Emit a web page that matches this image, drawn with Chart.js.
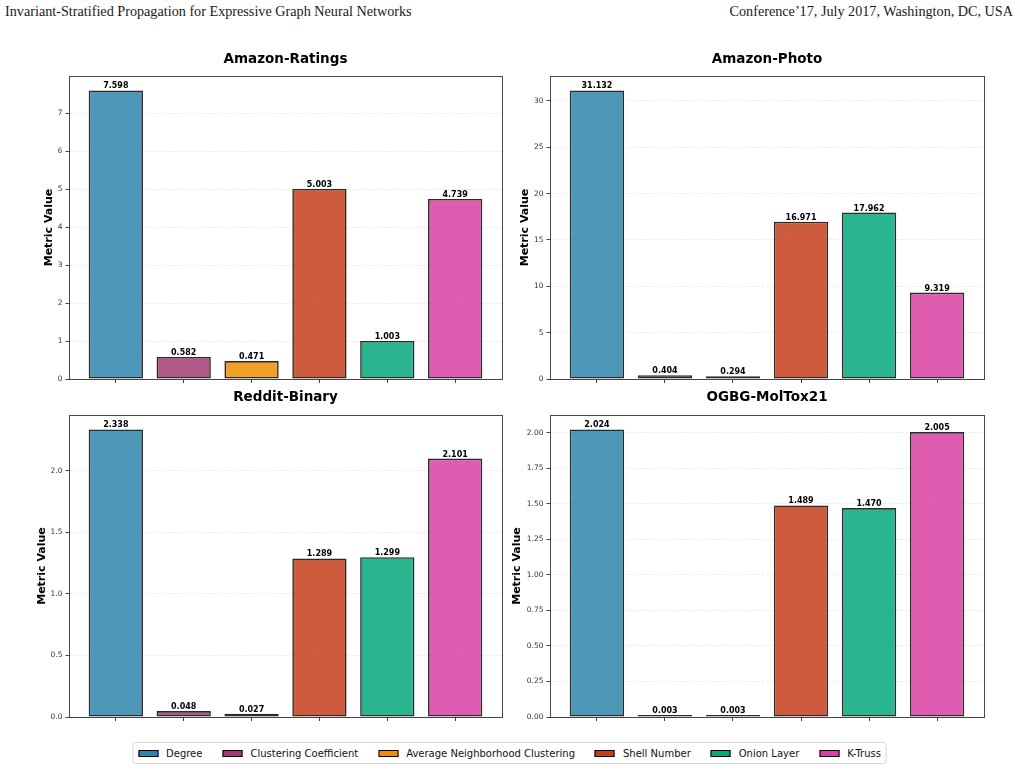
<!DOCTYPE html>
<html><head><meta charset="utf-8">
<script src="https://cdn.jsdelivr.net/npm/chart.js@4.4.1/dist/chart.umd.min.js"></script>
<style>
html,body{margin:0;padding:0;background:#fff;}
body{width:1020px;height:770px;position:relative;overflow:hidden;font-family:'DejaVu Sans';}
.hdr{position:absolute;top:3px;line-height:16px;font-family:'Liberation Serif';font-size:14.2px;color:#1a1a1a;white-space:nowrap;}
canvas{position:absolute;}
#legend{position:absolute;top:742px;left:509.5px;transform:translateX(-50%);height:22px;box-sizing:border-box;border:1px solid #d6d6d6;border-radius:3px;display:flex;align-items:center;padding:0 5px;font-size:10px;color:#111;white-space:nowrap;}
.item{display:flex;align-items:center;margin-left:20px}
.item:first-child{margin-left:0}
.sw{width:20px;height:7px;box-sizing:border-box;border:1px solid #000;margin-right:8px}
</style></head>
<body>
<div class="hdr" style="left:5px">Invariant-Stratified Propagation for Expressive Graph Neural Networks</div>
<div class="hdr" style="right:7px">Conference’17, July 2017, Washington, DC, USA</div>
<canvas id="c1" width="510" height="350" style="left:0;top:40px"></canvas>
<canvas id="c2" width="510" height="350" style="left:510px;top:40px"></canvas>
<canvas id="c3" width="510" height="345" style="left:0;top:385px"></canvas>
<canvas id="c4" width="510" height="345" style="left:510px;top:385px"></canvas>
<div id="legend"></div>
<script>
const categories = ['Degree', 'Clustering Coefficient', 'Average Neighborhood Clustering', 'Shell Number', 'Onion Layer', 'K-Truss'];
const barColors = ['#2E86AB', '#A23B72', '#F18F01', '#C73E1D', '#06A77D', '#D841A2'];

const amazonRatings = [7.598, 0.582, 0.471, 5.003, 1.003, 4.739];
const amazonPhoto   = [31.132, 0.404, 0.294, 16.971, 17.962, 9.319];
const redditBinary  = [2.338, 0.048, 0.027, 1.289, 1.299, 2.101];
const ogbgMolTox21  = [2.024, 0.003, 0.003, 1.489, 1.470, 2.005];

const ratingsTicks = [0, 1, 2, 3, 4, 5, 6, 7];
const photoTicks   = [0, 5, 10, 15, 20, 25, 30];
const redditTicks  = [0, 0.5, 1.0, 1.5, 2.0];
const moltoxTicks  = [0, 0.25, 0.5, 0.75, 1.0, 1.25, 1.5, 1.75, 2.0];

function withAlpha(hex, a) {
  const n = parseInt(hex.slice(1), 16);
  return `rgba(${(n >> 16) & 255},${(n >> 8) & 255},${n & 255},${a})`;
}

const panelTitle = {
  id: 'panelTitle',
  afterDraw(chart, args, opts) {
    const {ctx, chartArea} = chart;
    ctx.save();
    ctx.font = 'bold 13.5px "DejaVu Sans"';
    ctx.fillStyle = '#000';
    ctx.textAlign = 'center';
    ctx.textBaseline = 'middle';
    ctx.fillText(opts.text, (chartArea.left + chartArea.right) / 2, opts.y);
    ctx.restore();
  }
};
const frame = {
  id: 'frame',
  afterDraw(chart) {
    const {ctx, chartArea: a} = chart;
    ctx.save();
    ctx.strokeStyle = 'rgba(0,0,0,0.72)';
    ctx.lineWidth = 1;
    ctx.strokeRect(Math.floor(a.left) + 0.5, Math.floor(a.top) + 0.5, Math.round(a.right - a.left), Math.round(a.bottom - a.top));
    ctx.restore();
  }
};
const valueLabels = {
  id: 'valueLabels',
  afterDraw(chart) {
    const ctx = chart.ctx;
    const meta = chart.getDatasetMeta(0);
    const ds = chart.data.datasets[0];
    ctx.save();
    ctx.font = 'bold 8px "DejaVu Sans"';
    ctx.fillStyle = '#000';
    ctx.textAlign = 'center';
    ctx.textBaseline = 'alphabetic';
    meta.data.forEach((bar, i) => {
      ctx.fillText(ds.data[i].y.toFixed(3), bar.x, bar.y - 2);
    });
    ctx.restore();
  }
};

Chart.defaults.font.family = '"DejaVu Sans"';

function makePanel(id, title, values, tickVals, decimals, L) {
  const n = categories.length;
  new Chart(document.getElementById(id), {
    type: 'bar',
    data: {
      datasets: [{
        data: values.map((v, i) => ({x: i, y: v})),
        backgroundColor: barColors.map(c => withAlpha(c, 0.85)),
        borderColor: 'rgba(20,20,20,0.9)',
        borderWidth: 1.6,
        borderSkipped: false,
        barPercentage: 0.8,
        categoryPercentage: 1,
        minBarLength: 2
      }]
    },
    options: {
      responsive: false,
      animation: false,
      devicePixelRatio: 1,
      layout: {padding: {left: 0, right: L.padRight, top: L.areaTop, bottom: 0}},
      plugins: {
        legend: {display: false},
        tooltip: {enabled: false},
        title: {display: false},
        panelTitle: {text: title, y: L.titleY}
      },
      scales: {
        x: {
          type: 'linear',
          offset: false,
          min: -0.4 - 0.05 * (n - 0.2),
          max: (n - 1) + 0.4 + 0.05 * (n - 0.2),
          afterBuildTicks: s => { s.ticks = categories.map((c, i) => ({value: i})); },
          ticks: {callback: () => '', font: {size: 1}},
          grid: {offset: false, drawOnChartArea: false, drawTicks: true, tickLength: 4, tickColor: '#444', tickWidth: 1},
          border: {display: false},
          afterFit: s => { s.height = L.xHeight; }
        },
        y: {
          type: 'linear',
          min: 0,
          max: Math.max(...values) * 1.05,
          afterBuildTicks: s => { s.ticks = tickVals.map(v => ({value: v})); },
          ticks: {callback: v => Number(v).toFixed(decimals), font: {size: 7.5}, color: '#333', padding: 3},
          grid: {color: '#e8e8e8', lineWidth: 0.8, tickLength: 3.5, tickColor: '#444', tickWidth: 1},
          border: {display: false, dash: [3, 1.5]},
          title: {display: true, text: 'Metric Value', color: '#000', font: {size: 11, weight: 'bold'}, padding: {top: L.yTitlePad, bottom: 0}},
          afterFit: s => { s.width = L.yWidth; }
        }
      }
    },
    plugins: [panelTitle, frame, valueLabels]
  });
}

makePanel('c1', 'Amazon-Ratings', amazonRatings, ratingsTicks, 0, {padRight: 8, areaTop: 36, titleY: 19, xHeight: 11, yWidth: 69, yTitlePad: 42.4});
makePanel('c2', 'Amazon-Photo', amazonPhoto, photoTicks, 0, {padRight: 36, areaTop: 36, titleY: 19, xHeight: 11, yWidth: 40, yTitlePad: 8.4});
makePanel('c3', 'Reddit-Binary', redditBinary, redditTicks, 1, {padRight: 8, areaTop: 30, titleY: 12, xHeight: 13, yWidth: 69, yTitlePad: 35.4});
makePanel('c4', 'OGBG-MolTox21', ogbgMolTox21, moltoxTicks, 2, {padRight: 36, areaTop: 30, titleY: 12, xHeight: 13, yWidth: 40, yTitlePad: 0.4});

const legend = document.getElementById('legend');
categories.forEach((c, i) => {
  const item = document.createElement('div');
  item.className = 'item';
  const sw = document.createElement('span');
  sw.className = 'sw';
  sw.style.background = barColors[i];
  const t = document.createElement('span');
  t.textContent = c;
  item.appendChild(sw);
  item.appendChild(t);
  legend.appendChild(item);
});
</script>
</body></html>
